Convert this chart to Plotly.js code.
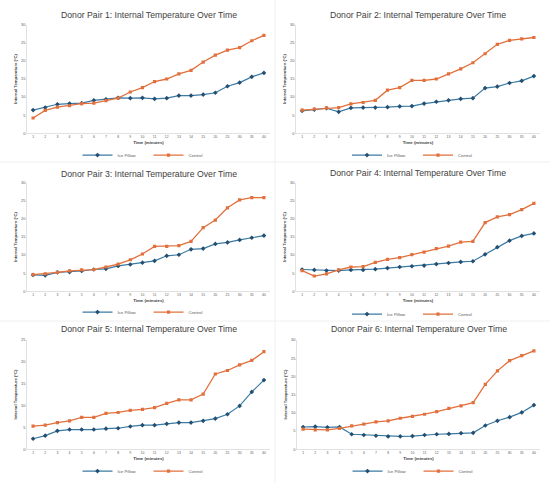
<!DOCTYPE html>
<html>
<head>
<meta charset="utf-8">
<script src="https://cdn.plot.ly/plotly-3.0.1.min.js"></script>
<style>html,body{margin:0;padding:0;background:#fff;}#chart{width:550px;height:486px;}</style>
</head>
<body>
<div id="chart"></div>
<script>
const timeLabels = ["1","2","3","4","5","6","7","8","9","10","11","12","13","14","15","20","25","30","35","40"];

const ice1 = [6.4,7.1,8.0,8.2,8.3,9.1,9.4,9.8,9.7,9.8,9.5,9.7,10.4,10.4,10.7,11.2,13.0,14.0,15.6,16.7];
const ctl1 = [4.2,6.3,7.2,7.6,8.2,8.3,9.0,9.7,11.4,12.6,14.3,15.0,16.4,17.4,19.7,21.6,23.0,23.7,25.6,27.1];

const ice2 = [6.2,6.5,6.9,5.9,7.0,7.1,7.1,7.2,7.4,7.5,8.2,8.7,9.1,9.5,9.7,12.5,12.9,13.9,14.5,15.8];
const ctl2 = [6.4,6.7,7.0,7.1,8.1,8.5,9.1,11.9,12.6,14.6,14.6,15.0,16.4,17.8,19.5,22.0,24.6,25.7,26.1,26.5];

const ice3 = [4.5,4.4,5.2,5.3,5.6,6.0,6.2,7.0,7.4,7.9,8.4,9.8,10.1,11.6,11.8,13.1,13.5,14.2,14.8,15.4];
const ctl3 = [4.6,4.8,5.2,5.6,5.9,6.0,6.7,7.5,8.7,10.3,12.4,12.4,12.6,13.8,17.6,19.7,23.1,25.3,25.9,25.9];

const ice4 = [6.0,5.9,5.7,5.7,5.9,5.9,6.1,6.4,6.7,6.9,7.1,7.5,7.8,8.1,8.3,10.2,12.2,14.0,15.3,16.0];
const ctl4 = [5.7,4.2,4.8,5.9,6.7,6.8,8.0,8.8,9.3,10.1,10.8,11.8,12.5,13.6,13.8,19.0,20.6,21.2,22.6,24.3];

const ice5 = [2.4,3.1,4.2,4.5,4.5,4.5,4.7,4.8,5.2,5.5,5.5,5.8,6.1,6.1,6.5,7.0,8.0,9.9,13.1,15.8];
const ctl5 = [5.3,5.5,6.1,6.5,7.3,7.3,8.2,8.4,8.9,9.1,9.5,10.5,11.3,11.3,12.6,17.2,18.0,19.3,20.3,22.3];

const ice6 = [6.1,6.2,6.0,6.1,4.1,3.9,3.7,3.5,3.5,3.6,3.9,4.1,4.2,4.4,4.5,6.5,7.8,8.8,10.1,12.1];
const ctl6 = [5.5,5.3,5.3,5.7,6.4,6.9,7.5,7.8,8.5,9.0,9.6,10.3,11.2,11.9,12.8,17.8,21.5,24.3,25.7,27.0];

const panelTitles = [
  "Donor Pair 1: Internal Temperature Over Time",
  "Donor Pair 2: Internal Temperature Over Time",
  "Donor Pair 3: Internal Temperature Over Time",
  "Donor Pair 4: Internal Temperature Over Time",
  "Donor Pair 5: Internal Temperature Over Time",
  "Donor Pair 6: Internal Temperature Over Time"
];
const seriesNames = ["Ice Pillow", "Control"];
const yMax = [30,30,30,30,25,30];

const iceData = [ice1,ice2,ice3,ice4,ice5,ice6];
const ctlData = [ctl1,ctl2,ctl3,ctl4,ctl5,ctl6];

const W = 550, H = 486;
const px = v => v / W;
const py = v => 1 - v / H;

// pixel geometry for each panel: [xLeft, xRight, yTop, yBottom]
const geom = [
  [27, 270, 25, 134],
  [296, 540, 25, 134],
  [27, 270, 184, 293],
  [296, 540, 184, 293],
  [27, 270, 342, 452],
  [297, 540, 342, 452]
];
const titleY = [15, 15, 175, 174, 331, 331];
const legendY = [156, 156, 314, 316, 474, 474];
const blue = "#3b7ba3", blueMk = "#234f72", orange = "#e2703d";
const FONT = "Liberation Sans, Arial, sans-serif";

const traces = [];
const layout = {
  width: W, height: H,
  margin: {l:0, r:0, t:0, b:0},
  paper_bgcolor: "#fff", plot_bgcolor: "#fff",
  font: {family: FONT, color: "#595959", size: 4.5},
  showlegend: true,
  annotations: [],
  shapes: []
};

for (let i = 0; i < 6; i++) {
  const n = i + 1;
  const xa = n === 1 ? "x" : "x" + n;
  const ya = n === 1 ? "y" : "y" + n;
  const lg = n === 1 ? "legend" : "legend" + n;
  const g = geom[i];
  traces.push({
    x: timeLabels, y: iceData[i], name: seriesNames[0], type: "scatter", mode: "lines+markers",
    xaxis: xa, yaxis: ya, legend: lg,
    line: {color: blue, width: 1.2},
    marker: {symbol: "diamond", size: 3.6, color: blueMk}
  });
  traces.push({
    x: timeLabels, y: ctlData[i], name: seriesNames[1], type: "scatter", mode: "lines+markers",
    xaxis: xa, yaxis: ya, legend: lg,
    line: {color: orange, width: 1.3},
    marker: {symbol: "square", size: 3.2, color: orange}
  });
  layout["xaxis" + (n === 1 ? "" : n)] = {
    domain: [px(g[0]), px(g[1])], anchor: ya, type: "category",
    range: [-0.5, 19.5],
    showgrid: false, zeroline: false,
    showline: true, linecolor: "#d9d9d9", linewidth: 0.8,
    ticks: "", tickfont: {size: 3.4, color: "#595959"}, ticklen: 0,
    title: {text: "<b>Time (minutes)</b>", font: {size: 4.3, color: "#404040"}, standoff: 2}
  };
  layout["yaxis" + (n === 1 ? "" : n)] = {
    domain: [py(g[3]), py(g[2])], anchor: xa,
    range: [0, yMax[i]], dtick: 5,
    showgrid: false, zeroline: false,
    showline: true, linecolor: "#d9d9d9", linewidth: 0.8,
    ticks: "", tickfont: {size: 4, color: "#595959"},
    title: {text: "<b>Internal Temperature (°C)</b>", font: {size: 4.2, color: "#404040"}, standoff: 3}
  };
  layout[lg] = {
    orientation: "h", x: (px(g[0]) + px(g[1])) / 2, xanchor: "center",
    y: py(legendY[i]), yanchor: "middle",
    font: {size: 4.3, color: "#595959"},
    bgcolor: "rgba(0,0,0,0)", itemwidth: 30, tracegroupgap: 0,
    entrywidthmode: "pixels", entrywidth: 26
  };
  layout.annotations.push({
    text: panelTitles[i], xref: "paper", yref: "paper",
    x: (px(g[0]) + px(g[1])) / 2, y: py(titleY[i]), xanchor: "center", yanchor: "middle",
    showarrow: false, font: {size: 8.7, color: "#404040", family: FONT}
  });
}
// faint panel separators
layout.shapes.push({type:"line", xref:"paper", yref:"paper", x0:px(275), x1:px(275), y0:0, y1:1, line:{color:"#ececec", width:0.8}});
layout.shapes.push({type:"line", xref:"paper", yref:"paper", x0:0, x1:1, y0:py(163), y1:py(163), line:{color:"#ececec", width:0.8}});
layout.shapes.push({type:"line", xref:"paper", yref:"paper", x0:0, x1:1, y0:py(323), y1:py(323), line:{color:"#ececec", width:0.8}});

Plotly.newPlot("chart", traces, layout, {displayModeBar: false, staticPlot: true});
</script>
</body>
</html>
